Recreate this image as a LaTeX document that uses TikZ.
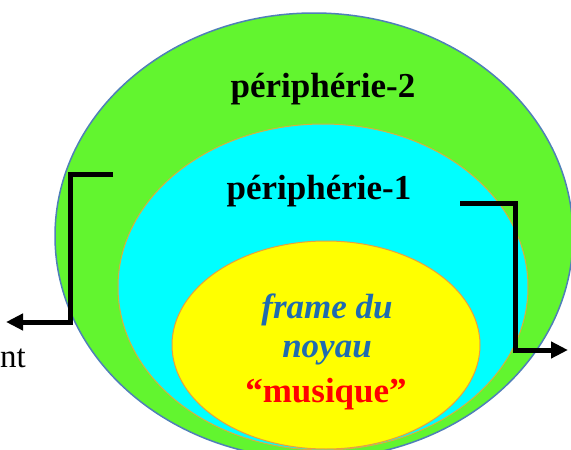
\documentclass[tikz,border=0pt]{standalone}
\usepackage{fontspec}
\setmainfont{Liberation Serif}
\usetikzlibrary{arrows.meta}
\definecolor{ringgreen}{HTML}{62F52F}
\definecolor{ringblue}{HTML}{4F7FB8}
\definecolor{ringcyan}{HTML}{00FFFF}
\definecolor{ringgold}{HTML}{D8B040}
\definecolor{coreyellow}{HTML}{FFFF00}
\definecolor{coreedge}{HTML}{E8A040}
\definecolor{textblue}{HTML}{1F6BB0}
\definecolor{textred}{HTML}{FF0000}
\tikzset{
  bigtxt/.style={font=\fontsize{35}{45}\selectfont\bfseries, anchor=base, inner sep=0pt},
  coretxt/.style={font=\fontsize{35}{45}\selectfont\bfseries\itshape, anchor=base, inner sep=0pt, text=textblue},
  bracket/.style={line width=5pt, line join=miter, -{Triangle[length=17pt,width=16pt]}}
}
\begin{document}
\begin{tikzpicture}[x=1pt,y=-1pt]
\useasboundingbox (0,0) rectangle (571,450);
\begin{scope}
\clip (0,0) rectangle (571,450);
\fill[ringgreen, draw=ringblue, line width=1.5pt] (314,236) ellipse [x radius=259, y radius=223];
\fill[ringcyan, draw=ringgold, line width=1pt] (323,287) ellipse [x radius=205, y radius=163];
\fill[coreyellow, draw=coreedge, line width=1pt] (326,345) ellipse [x radius=154, y radius=104];
\end{scope}
\node[bigtxt] (p2) at (323,97) {périphérie-2};
\node[bigtxt] (p1) at (319,199) {périphérie-1};
\node[coretxt] (c1) at (327,318) {frame du};
\node[coretxt] (c2) at (327,357) {noyau};
\node[bigtxt, text=textred] (c3) at (326,402) {“musique”};
\node[font=\fontsize{33}{40}\selectfont, anchor=base east, inner sep=0pt] (nt) at (26,367) {nt};
\coordinate (lt) at (113,174);
\coordinate (lc) at (70,174);
\coordinate (lb) at (70,322);
\coordinate (la) at (6,322);
\coordinate (rt) at (460,203);
\coordinate (rc) at (515,203);
\coordinate (rb) at (515,350);
\coordinate (ra) at (568,350);
\draw[bracket] (lt) -- (lc) -- (lb) -- (la);
\draw[bracket] (rt) -- (rc) -- (rb) -- (ra);
\end{tikzpicture}
\end{document}
